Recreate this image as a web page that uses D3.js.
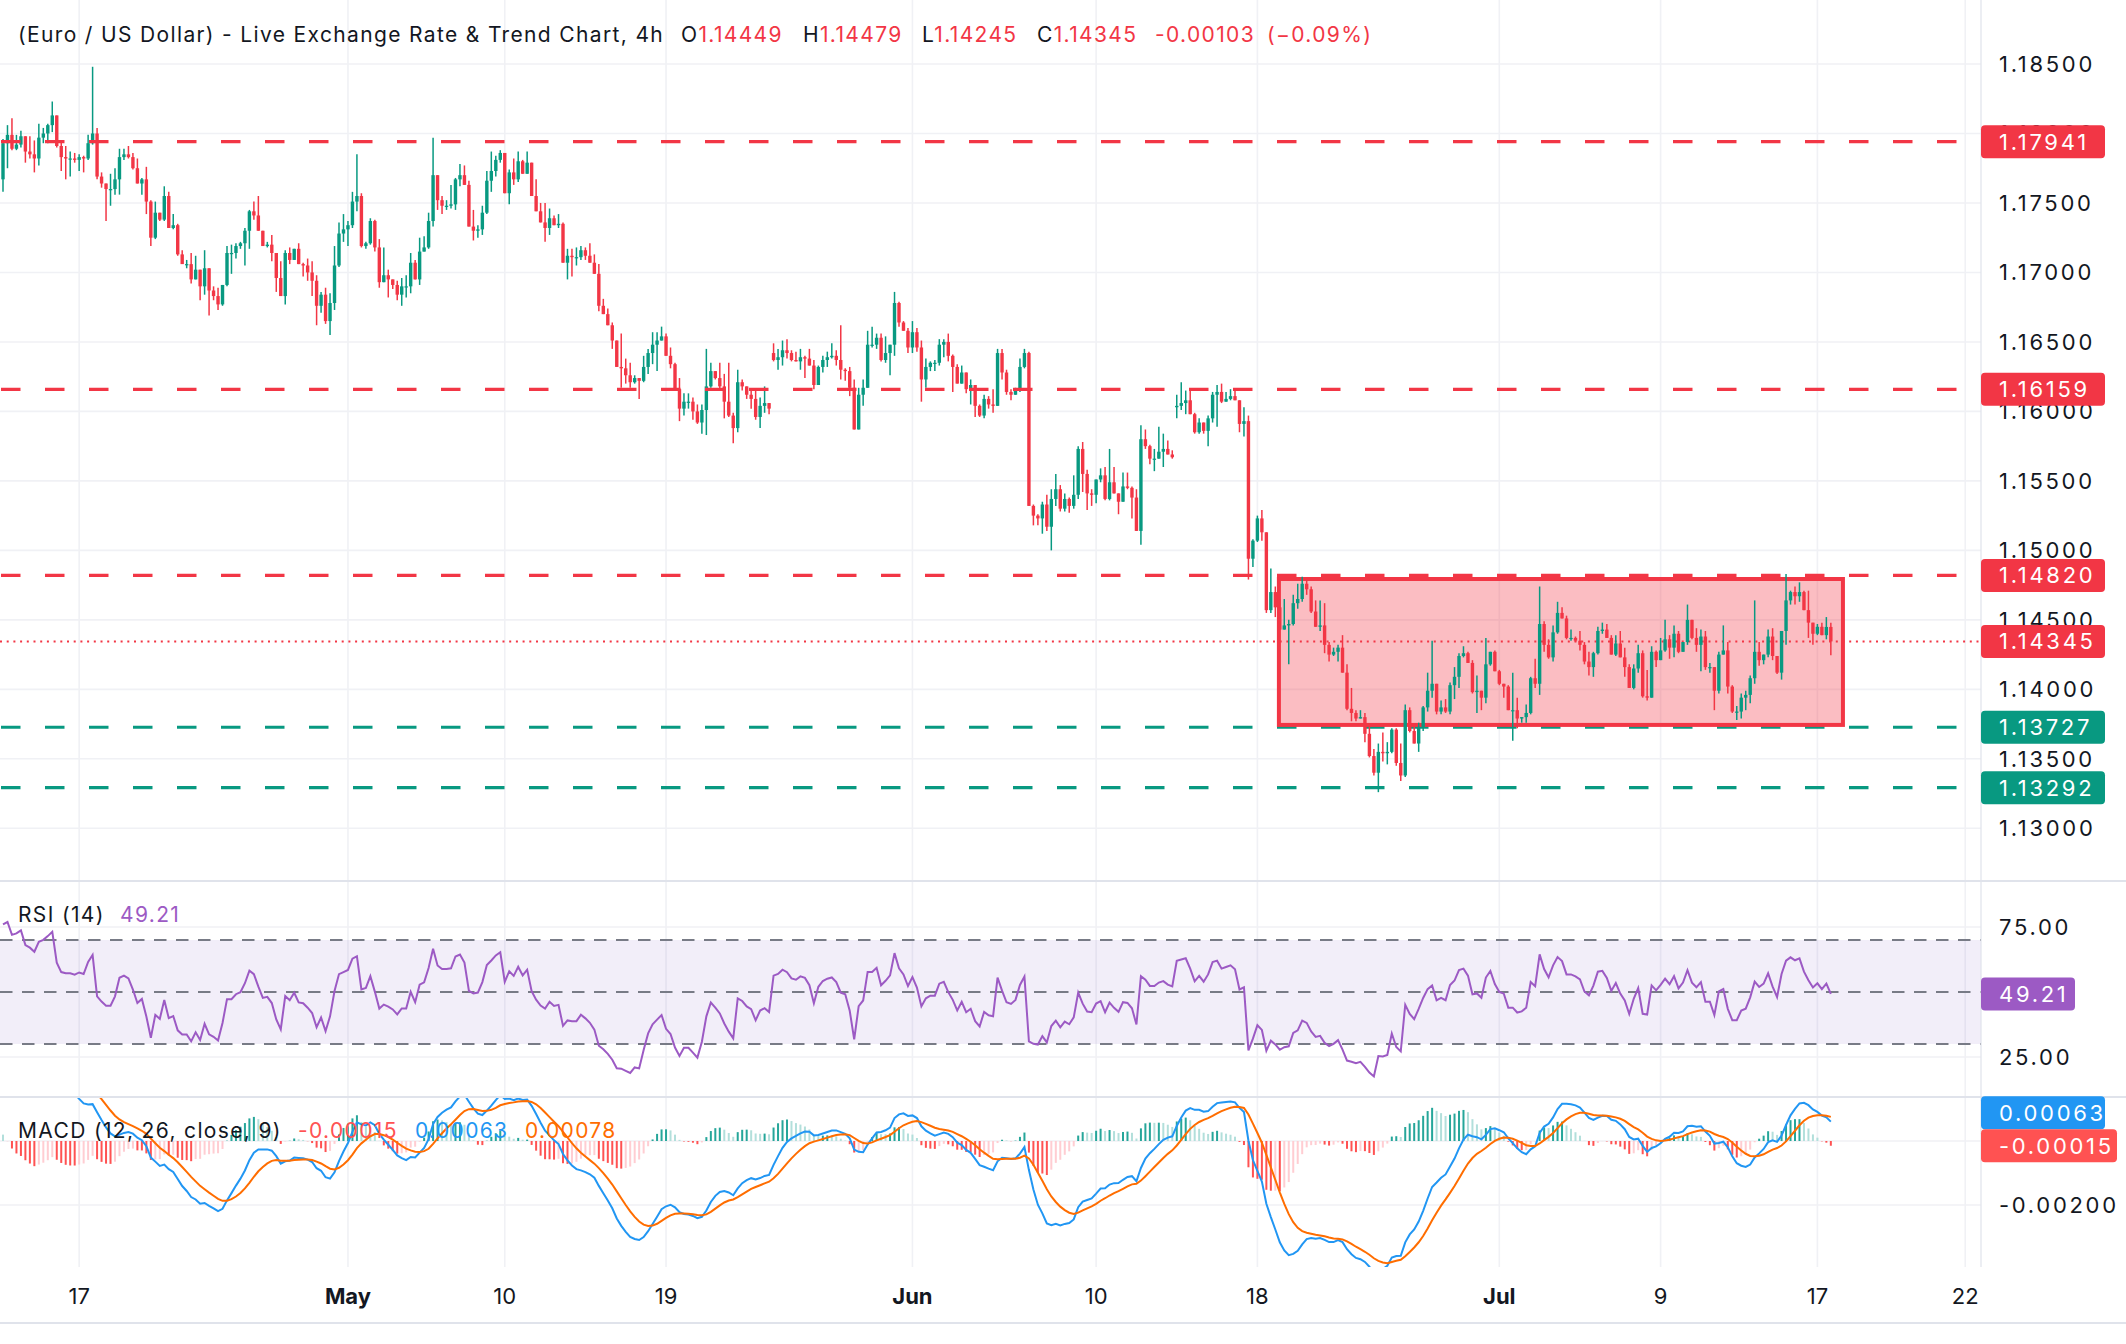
<!DOCTYPE html>
<html>
<head>
<meta charset="utf-8">
<script src="https://cdn.jsdelivr.net/npm/d3@7"></script>
<style>
  body { margin: 0; background: #fff; }
  svg { display: block; font-family: Inter, "Noto Sans", sans-serif; }
</style>
</head>
<body>
<svg id="chart" width="2126" height="1344"></svg>
<script>
// EUR/USD 4h candles (one entry per bar)
var closes = [
1.1793,1.1799,1.1789,1.1792,1.1798,1.1787,1.1785,1.1782,1.1797,1.1800,
1.1806,1.1813,1.1791,1.1783,1.1782,1.1782,1.1781,1.1783,1.1782,1.1793,
1.1800,1.1769,1.1764,1.1760,1.1760,1.1767,1.1783,1.1785,1.1783,1.1775,
1.1764,1.1767,1.1751,1.1725,1.1743,1.1738,1.1755,1.1732,1.1734,1.1713,
1.1706,1.1706,1.1695,1.1702,1.1690,1.1703,1.1687,1.1683,1.1677,1.1691,
1.1714,1.1714,1.1719,1.1721,1.1730,1.1744,1.1741,1.1730,1.1719,1.1720,
1.1714,1.1696,1.1683,1.1714,1.1709,1.1717,1.1706,1.1705,1.1700,1.1694,
1.1676,1.1684,1.1665,1.1678,1.1705,1.1728,1.1731,1.1734,1.1751,1.1755,
1.1719,1.1721,1.1737,1.1718,1.1693,1.1698,1.1695,1.1691,1.1684,1.1690,
1.1690,1.1707,1.1695,1.1715,1.1718,1.1737,1.1770,1.1752,1.1748,1.1748,
1.1749,1.1767,1.1770,1.1763,1.1733,1.1730,1.1731,1.1743,1.1766,1.1773,
1.1781,1.1786,1.1757,1.1772,1.1767,1.1780,1.1771,1.1779,1.1755,1.1744,
1.1736,1.1732,1.1739,1.1734,1.1735,1.1707,1.1712,1.1711,1.1711,1.1716,
1.1712,1.1707,1.1699,1.1676,1.1670,1.1662,1.1651,1.1632,1.1631,1.1626,
1.1621,1.1624,1.1622,1.1632,1.1642,1.1648,1.1651,1.1654,1.1640,1.1634,
1.1616,1.1602,1.1607,1.1607,1.1600,1.1592,1.1601,1.1618,1.1629,1.1624,
1.1618,1.1607,1.1597,1.1588,1.1621,1.1618,1.1612,1.1609,1.1596,1.1604,
1.1606,1.1602,1.1637,1.1639,1.1644,1.1642,1.1637,1.1636,1.1639,1.1638,
1.1633,1.1619,1.1632,1.1637,1.1639,1.1640,1.1637,1.1630,1.1629,1.1617,
1.1587,1.1612,1.1617,1.1648,1.1648,1.1653,1.1637,1.1642,1.1648,1.1678,
1.1664,1.1658,1.1646,1.1657,1.1646,1.1623,1.1632,1.1635,1.1635,1.1648,
1.1650,1.1640,1.1632,1.1620,1.1628,1.1616,1.1619,1.1604,1.1597,1.1609,
1.1605,1.1604,1.1642,1.1628,1.1614,1.1612,1.1616,1.1632,1.1642,1.1532,
1.1525,1.1523,1.1533,1.1517,1.1537,1.1544,1.1530,1.1537,1.1532,1.1540,
1.1573,1.1555,1.1541,1.1540,1.1551,1.1554,1.1537,1.1549,1.1541,1.1535,
1.1546,1.1545,1.1538,1.1514,1.1580,1.1575,1.1566,1.1566,1.1571,1.1573,
1.1569,1.1567,1.1604,1.1606,1.1608,1.1598,1.1585,1.1592,1.1586,1.1595,
1.1612,1.1614,1.1607,1.1609,1.1611,1.1608,1.1591,1.1593,1.1494,1.1507,
1.1523,1.1513,1.1457,1.1470,1.1459,1.1443,1.1446,1.1447,1.1462,1.1465,
1.1476,1.1472,1.1456,1.1445,1.1446,1.1432,1.1425,1.1427,1.1430,1.1412,
1.1386,1.1383,1.1379,1.1380,1.1368,1.1352,1.1340,1.1355,1.1354,1.1355,
1.1371,1.1347,1.1338,1.1385,1.1370,1.1361,1.1373,1.1387,1.1399,1.1404,
1.1384,1.1387,1.1384,1.1403,1.1409,1.1424,1.1426,1.1419,1.1398,1.1399,
1.1394,1.1418,1.1427,1.1413,1.1404,1.1402,1.1385,1.1385,1.1379,1.1380,
1.1383,1.1408,1.1404,1.1447,1.1432,1.1423,1.1441,1.1455,1.1451,1.1437,
1.1437,1.1435,1.1432,1.1420,1.1416,1.1426,1.1442,1.1443,1.1437,1.1425,
1.1433,1.1423,1.1416,1.1401,1.1415,1.1426,1.1395,1.1394,1.1427,1.1421,
1.1428,1.1436,1.1430,1.1440,1.1427,1.1434,1.1450,1.1437,1.1432,1.1438,
1.1416,1.1416,1.1399,1.1425,1.1428,1.1402,1.1384,1.1384,1.1394,1.1396,
1.1408,1.1427,1.1421,1.1425,1.1438,1.1424,1.1412,1.1442,1.1464,1.1470,
1.1467,1.1470,1.1457,1.1448,1.1440,1.1445,1.1439,1.14449,1.14345
];
var highs = [
1.1796,1.1806,1.1811,1.1799,1.1802,1.1798,1.1798,1.1795,1.1807,1.1804,
1.1807,1.1823,1.1813,1.1794,1.1791,1.1787,1.1786,1.1785,1.1784,1.1799,
1.1848,1.1804,1.1772,1.1764,1.1771,1.1775,1.1789,1.1789,1.1791,1.1786,
1.1782,1.1768,1.1776,1.1752,1.1751,1.1743,1.1762,1.1758,1.1742,1.1735,
1.1716,1.1709,1.1714,1.1712,1.1702,1.1716,1.1703,1.1690,1.1689,1.1691,
1.1719,1.1720,1.1721,1.1722,1.1732,1.1745,1.1751,1.1755,1.1730,1.1722,
1.1727,1.1714,1.1708,1.1716,1.1718,1.1717,1.1721,1.1707,1.1710,1.1708,
1.1698,1.1686,1.1689,1.1685,1.1719,1.1736,1.1742,1.1737,1.1758,1.1785,
1.1757,1.1722,1.1739,1.1738,1.1724,1.1718,1.1702,1.1695,1.1694,1.1696,
1.1698,1.1714,1.1709,1.1725,1.1726,1.1743,1.1797,1.1770,1.1755,1.1752,
1.1763,1.1768,1.1778,1.1777,1.1766,1.1745,1.1734,1.1748,1.1773,1.1787,
1.1784,1.1788,1.1786,1.1774,1.1782,1.1787,1.1781,1.1787,1.1779,1.1767,
1.1750,1.1750,1.1746,1.1741,1.1742,1.1736,1.1717,1.1717,1.1718,1.1719,
1.1718,1.1721,1.1713,1.1706,1.1681,1.1674,1.1664,1.1651,1.1656,1.1638,
1.1635,1.1626,1.1624,1.1640,1.1645,1.1657,1.1657,1.1661,1.1656,1.1646,
1.1635,1.1624,1.1613,1.1613,1.1610,1.1605,1.1605,1.1645,1.1635,1.1629,
1.1635,1.1627,1.1635,1.1599,1.1630,1.1623,1.1618,1.1616,1.1615,1.1610,
1.1618,1.1606,1.1649,1.1645,1.1651,1.1652,1.1644,1.1643,1.1645,1.1640,
1.1645,1.1637,1.1633,1.1640,1.1643,1.1649,1.1644,1.1662,1.1631,1.1632,
1.1623,1.1617,1.1623,1.1658,1.1661,1.1656,1.1656,1.1654,1.1648,1.1686,
1.1679,1.1665,1.1660,1.1665,1.1660,1.1651,1.1638,1.1636,1.1637,1.1652,
1.1652,1.1656,1.1641,1.1634,1.1633,1.1628,1.1623,1.1619,1.1605,1.1612,
1.1611,1.1616,1.1645,1.1645,1.1630,1.1616,1.1617,1.1638,1.1645,1.1643,
1.1533,1.1526,1.1535,1.1540,1.1544,1.1555,1.1547,1.1541,1.1538,1.1554,
1.1575,1.1578,1.1558,1.1544,1.1551,1.1559,1.1560,1.1573,1.1560,1.1541,
1.1556,1.1556,1.1546,1.1544,1.1590,1.1587,1.1576,1.1573,1.1589,1.1584,
1.1579,1.1572,1.1612,1.1621,1.1615,1.1616,1.1599,1.1595,1.1592,1.1597,
1.1614,1.1619,1.1620,1.1614,1.1616,1.1616,1.1608,1.1603,1.1597,1.1508,
1.1525,1.1529,1.1513,1.1487,1.1474,1.1465,1.1465,1.1450,1.1468,1.1476,
1.1481,1.1479,1.1474,1.1464,1.1464,1.1462,1.1434,1.1430,1.1432,1.1439,
1.1418,1.1401,1.1385,1.1385,1.1383,1.1373,1.1357,1.1361,1.1369,1.1362,
1.1372,1.1372,1.1361,1.1389,1.1387,1.1375,1.1376,1.1388,1.1412,1.1435,
1.1404,1.1392,1.1393,1.1405,1.1416,1.1426,1.1431,1.1427,1.1421,1.1410,
1.1399,1.1437,1.1427,1.1428,1.1414,1.1404,1.1403,1.1412,1.1394,1.1380,
1.1389,1.1409,1.1422,1.1474,1.1449,1.1436,1.1446,1.1463,1.1459,1.1453,
1.1443,1.1438,1.1442,1.1434,1.1427,1.1427,1.1445,1.1448,1.1447,1.1439,
1.1439,1.1442,1.1430,1.1418,1.1418,1.1432,1.1428,1.1414,1.1431,1.1428,
1.1437,1.1450,1.1439,1.1446,1.1442,1.1434,1.1461,1.1450,1.1444,1.1443,
1.1442,1.1419,1.1416,1.1427,1.1446,1.1434,1.1403,1.1388,1.1397,1.1399,
1.1410,1.1464,1.1434,1.1425,1.1443,1.1444,1.1424,1.1442,1.1483,1.1471,
1.1474,1.1477,1.1471,1.1471,1.1448,1.1447,1.1448,1.1452,1.14479
];
var lows = [
1.1758,1.1775,1.1788,1.1788,1.1790,1.1779,1.1782,1.1772,1.1777,1.1793,
1.1793,1.1801,1.1790,1.1773,1.1767,1.1769,1.1779,1.1773,1.1772,1.1781,
1.1792,1.1767,1.1761,1.1737,1.1748,1.1756,1.1756,1.1781,1.1782,1.1774,
1.1764,1.1756,1.1742,1.1719,1.1724,1.1737,1.1737,1.1732,1.1731,1.1712,
1.1706,1.1703,1.1692,1.1695,1.1680,1.1684,1.1669,1.1680,1.1673,1.1676,
1.1690,1.1699,1.1710,1.1717,1.1705,1.1717,1.1738,1.1730,1.1719,1.1718,
1.1708,1.1686,1.1683,1.1677,1.1706,1.1709,1.1706,1.1697,1.1694,1.1683,
1.1662,1.1671,1.1663,1.1655,1.1673,1.1704,1.1722,1.1719,1.1732,1.1744,
1.1718,1.1717,1.1720,1.1715,1.1689,1.1693,1.1682,1.1688,1.1680,1.1676,
1.1682,1.1685,1.1695,1.1691,1.1715,1.1717,1.1733,1.1745,1.1742,1.1745,
1.1746,1.1745,1.1762,1.1763,1.1733,1.1723,1.1725,1.1727,1.1742,1.1758,
1.1769,1.1779,1.1757,1.1749,1.1763,1.1765,1.1771,1.1774,1.1755,1.1744,
1.1736,1.1722,1.1727,1.1734,1.1732,1.1707,1.1695,1.1697,1.1705,1.1709,
1.1709,1.1707,1.1699,1.1672,1.1670,1.1662,1.1645,1.1632,1.1617,1.1620,
1.1617,1.1620,1.1609,1.1621,1.1627,1.1634,1.1629,1.1651,1.1640,1.1631,
1.1616,1.1593,1.1597,1.1602,1.1594,1.1591,1.1584,1.1583,1.1617,1.1623,
1.1616,1.1595,1.1596,1.1577,1.1585,1.1615,1.1609,1.1602,1.1594,1.1588,
1.1599,1.1598,1.1636,1.1630,1.1633,1.1638,1.1636,1.1636,1.1630,1.1624,
1.1633,1.1616,1.1620,1.1628,1.1632,1.1638,1.1633,1.1623,1.1622,1.1611,
1.1587,1.1587,1.1604,1.1617,1.1646,1.1645,1.1636,1.1635,1.1626,1.1640,
1.1661,1.1658,1.1642,1.1642,1.1643,1.1607,1.1617,1.1629,1.1629,1.1633,
1.1639,1.1636,1.1614,1.1620,1.1620,1.1613,1.1605,1.1596,1.1596,1.1595,
1.1602,1.1599,1.1604,1.1623,1.1612,1.1608,1.1612,1.1614,1.1631,1.1532,
1.1518,1.1518,1.1512,1.1514,1.1500,1.1532,1.1528,1.1528,1.1527,1.1530,
1.1537,1.1542,1.1529,1.1532,1.1534,1.1549,1.1536,1.1536,1.1541,1.1526,
1.1535,1.1544,1.1523,1.1514,1.1504,1.1573,1.1562,1.1557,1.1566,1.1560,
1.1569,1.1566,1.1595,1.1601,1.1598,1.1598,1.1584,1.1584,1.1584,1.1575,
1.1592,1.1589,1.1606,1.1607,1.1608,1.1608,1.1585,1.1582,1.1479,1.1488,
1.1506,1.1507,1.1455,1.1455,1.1452,1.1443,1.1443,1.1418,1.1446,1.1458,
1.1463,1.1468,1.1455,1.1445,1.1442,1.1426,1.1420,1.1424,1.1420,1.1412,
1.1385,1.1377,1.1377,1.1379,1.1362,1.1351,1.1338,1.1326,1.1348,1.1346,
1.1354,1.1345,1.1334,1.1337,1.1369,1.1361,1.1355,1.1370,1.1384,1.1394,
1.1382,1.1382,1.1383,1.1382,1.1393,1.1401,1.1423,1.1419,1.1397,1.1383,
1.1385,1.1390,1.1417,1.1413,1.1403,1.1394,1.1385,1.1363,1.1372,1.1376,
1.1376,1.1382,1.1401,1.1396,1.1427,1.1422,1.1420,1.1440,1.1451,1.1436,
1.1435,1.1434,1.1428,1.1418,1.1410,1.1409,1.1425,1.1440,1.1437,1.1425,
1.1424,1.1423,1.1409,1.1401,1.1400,1.1412,1.1394,1.1392,1.1395,1.1416,
1.1421,1.1427,1.1422,1.1423,1.1426,1.1428,1.1432,1.1436,1.1427,1.1413,
1.1414,1.1412,1.1385,1.1397,1.1425,1.1397,1.1383,1.1378,1.1379,1.1385,
1.1390,1.1404,1.1417,1.1418,1.1423,1.1421,1.1411,1.1407,1.1432,1.1461,
1.1461,1.1463,1.1457,1.1437,1.1432,1.1439,1.1439,1.1436,1.14245
];
var firstOpen = 1.1767;
// weekend gaps: [bar, open]
var gapOpens = [[172, 1.1642], [262, 1.1603]];

// indicator state before the first visible bar (estimated from the panels)
var rsiSeed = { up: 0.00075, down: 0.00030 };
var macdSeed = { ema12: 1.1778, ema26: 1.1728, signal: 0.0045 };

var resistanceLevels = [1.17941, 1.16159, 1.14820];
var supportLevels = [1.13727, 1.13292];
var lastPrice = 1.14345;
var rangeBox = { fromBar: 284.8, toBar: 410.7, top: 1.14794, bottom: 1.13744 };

var priceTicks = [1.130, 1.135, 1.140, 1.145, 1.150, 1.155, 1.160, 1.165, 1.170, 1.175, 1.180, 1.185];
var dateTickBars = [17, 77, 112, 148, 203, 244, 280, 334, 370, 405, 438];
var dateTickLabels = ["17", "May", "10", "19", "Jun", "10", "18", "Jul", "9", "17", "22"];
var monthLabels = ["May", "Jun", "Jul"];

var rsiTicks = [75, 25];
var rsiBands = [70, 50, 30];
var macdTicks = [0, -0.002];

var headerTitle = "(Euro / US Dollar) - Live Exchange Rate & Trend Chart, 4h";
var headerOHLC = [["O", "1.14449"], ["H", "1.14479"], ["L", "1.14245"], ["C", "1.14345"]];
var headerChange = ["-0.00103", "(\u22120.09%)"];
var rsiValueText = "49.21";
var macdValueTexts = ["-0.00015", "0.00063", "0.00078"];

// ---------- layout ----------
var red = "#F23645", green = "#089981", ink = "#131722";
var plotRight = 1981;
var axisSpacing = 2.7, legendSpacing = 1.35;
var svg = d3.select("#chart");

var x = d3.scaleLinear().domain([0, 438]).range([3, 3 + 4.48 * 438]);
var y = d3.scaleLinear().domain([1.13, 1.185]).range([828.3, 64]);
var yRsi = d3.scaleLinear().domain([30, 70]).range([1044, 940]);
var yMacd = d3.scaleLinear().domain([-0.002, 0]).range([1205, 1141]);

var defs = svg.append("defs");
function clip(id, y0, y1) {
    defs.append("clipPath").attr("id", id).append("rect")
        .attr("x", 0).attr("y", y0).attr("width", plotRight).attr("height", y1 - y0);
}
clip("cMain", 0, 881);
clip("cRsi", 882, 1096);
clip("cMacd", 1098, 1267);
clip("cAxis", 0, 1344);

// opens: previous close, except first bar and weekend gaps
var opens = closes.map(function (c, i) { return i === 0 ? firstOpen : closes[i - 1]; });
gapOpens.forEach(function (g) { opens[g[0]] = g[1]; });
var bars = closes.map(function (c, i) {
    var o = opens[i];
    return { i: i, o: o, c: c, h: Math.max(highs[i], o, c), l: Math.min(lows[i], o, c) };
});

// RSI(14), Wilder smoothing
var up = rsiSeed.up, down = rsiSeed.down;
var rsi = closes.map(function (c, i) {
    var ch = c - (i === 0 ? firstOpen : closes[i - 1]);
    up = (up * 13 + Math.max(ch, 0)) / 14;
    down = (down * 13 + Math.max(-ch, 0)) / 14;
    return 100 - 100 / (1 + up / down);
});

// MACD(12, 26, 9)
var e12 = macdSeed.ema12, e26 = macdSeed.ema26, sig = macdSeed.signal;
var macd = [], signal = [], hist = [];
closes.forEach(function (c) {
    e12 += (c - e12) * 2 / 13;
    e26 += (c - e26) * 2 / 27;
    var m = e12 - e26;
    sig += (m - sig) * 2 / 10;
    macd.push(m); signal.push(sig); hist.push(m - sig);
});

// ---------- grid ----------
var grid = svg.append("g").attr("stroke", "#F0F1F5").attr("stroke-width", 1.6);
grid.selectAll(".gp").data(priceTicks).enter().append("line")
    .attr("x1", 0).attr("x2", plotRight).attr("y1", d => y(d)).attr("y2", d => y(d));
grid.selectAll(".gv").data(dateTickBars).enter().append("line")
    .attr("x1", d => x(d)).attr("x2", d => x(d)).attr("y1", 0).attr("y2", 1267);
grid.selectAll(".gr").data(rsiTicks).enter().append("line")
    .attr("x1", 0).attr("x2", plotRight).attr("y1", d => yRsi(d)).attr("y2", d => yRsi(d));
grid.selectAll(".gm").data(macdTicks).enter().append("line")
    .attr("x1", 0).attr("x2", plotRight).attr("y1", d => yMacd(d)).attr("y2", d => yMacd(d));

// ---------- main panel ----------
var main = svg.append("g").attr("clip-path", "url(#cMain)");

main.selectAll(".sup").data(supportLevels).enter().append("line")
    .attr("x1", 1).attr("x2", plotRight).attr("y1", d => y(d)).attr("y2", d => y(d))
    .attr("stroke", green).attr("stroke-width", 3.2).attr("stroke-dasharray", "19.5,24.5");

main.append("rect")
    .attr("x", x(rangeBox.fromBar)).attr("y", y(rangeBox.top))
    .attr("width", x(rangeBox.toBar) - x(rangeBox.fromBar))
    .attr("height", y(rangeBox.bottom) - y(rangeBox.top))
    .attr("fill", red).attr("fill-opacity", 0.33)
    .attr("stroke", red).attr("stroke-width", 4);

main.append("line")
    .attr("x1", 0).attr("x2", plotRight).attr("y1", y(lastPrice)).attr("y2", y(lastPrice))
    .attr("stroke", red).attr("stroke-width", 2).attr("stroke-dasharray", "2,4.7");

var candle = main.selectAll(".candle").data(bars).enter().append("g")
    .attr("fill", d => d.c >= d.o ? green : red)
    .attr("stroke", d => d.c >= d.o ? green : red);
candle.append("line")
    .attr("x1", d => x(d.i)).attr("x2", d => x(d.i))
    .attr("y1", d => y(d.h)).attr("y2", d => y(d.l))
    .attr("stroke-width", 1.5);
candle.append("rect")
    .attr("stroke", "none")
    .attr("x", d => x(d.i) - 1.7).attr("width", 3.4)
    .attr("y", d => y(Math.max(d.o, d.c)))
    .attr("height", d => Math.max(1.2, Math.abs(y(d.o) - y(d.c))));

main.selectAll(".res").data(resistanceLevels).enter().append("line")
    .attr("x1", 1).attr("x2", plotRight).attr("y1", d => y(d)).attr("y2", d => y(d))
    .attr("stroke", red).attr("stroke-width", 3.2).attr("stroke-dasharray", "19.5,24.5");

// ---------- RSI panel ----------
var rsiG = svg.append("g").attr("clip-path", "url(#cRsi)");
rsiG.append("rect")
    .attr("x", 0).attr("width", plotRight)
    .attr("y", yRsi(70)).attr("height", yRsi(30) - yRsi(70))
    .attr("fill", "#7E57C2").attr("fill-opacity", 0.1);
rsiG.selectAll(".band").data(rsiBands).enter().append("line")
    .attr("x1", 0).attr("x2", plotRight).attr("y1", d => yRsi(d)).attr("y2", d => yRsi(d))
    .attr("stroke", "#787B86").attr("stroke-width", 2).attr("stroke-dasharray", "12.5,9.5");
rsiG.append("path").datum(rsi)
    .attr("fill", "none").attr("stroke", "#9C5AC4").attr("stroke-width", 2)
    .attr("d", d3.line().x((d, i) => x(i)).y(d => yRsi(d)));

// ---------- MACD panel ----------
var macdG = svg.append("g").attr("clip-path", "url(#cMacd)");
macdG.selectAll(".hist").data(hist).enter().append("rect")
    .attr("x", (d, i) => x(i) - 1).attr("width", 2)
    .attr("y", d => Math.min(yMacd(d), yMacd(0)))
    .attr("height", d => Math.abs(yMacd(d) - yMacd(0)))
    .attr("fill", function (d, i) {
        var prev = i ? hist[i - 1] : d;
        if (d >= 0) return d > prev ? "#26A69A" : "#B2DFDB";
        return d < prev ? "#FF5252" : "#FFCDD2";
    });
var macdLine = d3.line().x((d, i) => x(i)).y(d => yMacd(d));
macdG.append("path").datum(macd).attr("fill", "none")
    .attr("stroke", "#2196F3").attr("stroke-width", 2).attr("d", macdLine);
macdG.append("path").datum(signal).attr("fill", "none")
    .attr("stroke", "#FF6D00").attr("stroke-width", 2).attr("d", macdLine);

// ---------- separators ----------
var sep = svg.append("g").attr("stroke", "#E0E3EB").attr("stroke-width", 2);
sep.append("line").attr("x1", 0).attr("x2", 2126).attr("y1", 881).attr("y2", 881);
sep.append("line").attr("x1", 0).attr("x2", 2126).attr("y1", 1097).attr("y2", 1097);
sep.append("line").attr("x1", 0).attr("x2", 2126).attr("y1", 1323).attr("y2", 1323);
sep.append("line").attr("x1", plotRight).attr("x2", plotRight).attr("y1", 0).attr("y2", 1267)
    .attr("stroke-width", 1.2);

// ---------- right axis ----------
var axis = svg.append("g").attr("font-size", 22).attr("fill", ink)
    .attr("letter-spacing", axisSpacing);
axis.selectAll(".pt").data(priceTicks).enter().append("text")
    .attr("x", 1999).attr("y", d => y(d)).attr("dy", "0.36em")
    .text(d => d.toFixed(5));
axis.selectAll(".rt").data(rsiTicks).enter().append("text")
    .attr("x", 1999).attr("y", d => yRsi(d)).attr("dy", "0.36em")
    .text(d => d.toFixed(2));
axis.append("text").attr("x", 1999).attr("y", yMacd(-0.002)).attr("dy", "0.36em")
    .text((-0.002).toFixed(5));

function tag(cy, w, color, label) {
    var g = svg.append("g");
    g.append("rect").attr("x", plotRight).attr("y", cy - 16.5)
        .attr("width", w).attr("height", 33).attr("rx", 4).attr("fill", color);
    g.append("text").attr("x", 1999).attr("y", cy).attr("dy", "0.36em")
        .attr("letter-spacing", axisSpacing)
        .attr("font-size", 22).attr("fill", "#fff").text(label);
}
resistanceLevels.forEach(function (p) { tag(y(p), 124, red, p.toFixed(5)); });
tag(y(lastPrice), 124, red, lastPrice.toFixed(5));
supportLevels.forEach(function (p) { tag(y(p), 124, green, p.toFixed(5)); });
tag(yRsi(+rsiValueText), 94, "#9C5AC4", rsiValueText);
var histTagY = yMacd(+macdValueTexts[0]);
tag(Math.min(yMacd(+macdValueTexts[1]), histTagY - 33), 124, "#2196F3", macdValueTexts[1]);
tag(histTagY, 136, "#FF5252", macdValueTexts[0]);

// ---------- time axis ----------
svg.append("g").attr("clip-path", "url(#cAxis)")
    .selectAll("text").data(dateTickBars).enter().append("text")
    .attr("x", d => x(d)).attr("y", 1304).attr("text-anchor", "middle")
    .attr("font-size", 22).attr("fill", ink)
    .attr("font-weight", (d, i) => monthLabels.indexOf(dateTickLabels[i]) >= 0 ? 700 : 400)
    .text((d, i) => dateTickLabels[i]);

// ---------- legends ----------
var head = svg.append("text").attr("y", 42).attr("font-size", 21).attr("fill", ink)
    .attr("letter-spacing", legendSpacing);
head.append("tspan").attr("x", 18).text(headerTitle);
var ohlcX = [681, 803, 922, 1037];
headerOHLC.forEach(function (p, k) {
    head.append("tspan").attr("x", ohlcX[k]).text(p[0]);
    head.append("tspan").attr("fill", red).text(p[1]);
});
head.append("tspan").attr("x", 1155).attr("fill", red).text(headerChange[0]);
head.append("tspan").attr("x", 1267).attr("fill", red).text(headerChange[1]);

var rsiHead = svg.append("text").attr("y", 922).attr("font-size", 21).attr("fill", ink)
    .attr("letter-spacing", legendSpacing);
rsiHead.append("tspan").attr("x", 18).text("RSI (14)");
rsiHead.append("tspan").attr("x", 120).attr("fill", "#9C5AC4").text(rsiValueText);

var macdHead = svg.append("text").attr("y", 1138).attr("font-size", 21).attr("fill", ink)
    .attr("letter-spacing", legendSpacing);
macdHead.append("tspan").attr("x", 18).text("MACD (12, 26, close, 9)");
macdHead.append("tspan").attr("x", 298).attr("fill", "#FF5252").text(macdValueTexts[0]);
macdHead.append("tspan").attr("x", 415).attr("fill", "#2196F3").text(macdValueTexts[1]);
macdHead.append("tspan").attr("x", 525).attr("fill", "#FF6D00").text(macdValueTexts[2]);
</script>
</body>
</html>
